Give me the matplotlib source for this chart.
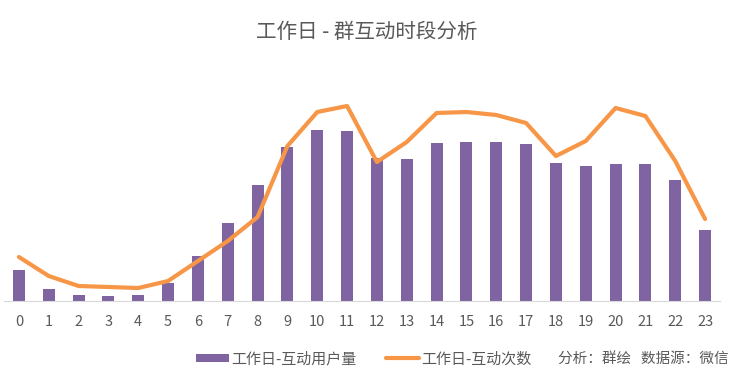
import matplotlib.pyplot as plt
import numpy as np

plt.rcParams['font.family'] = ['Noto Sans CJK SC', 'DejaVu Sans']

hours = [str(h) for h in range(24)]
users = [31, 12, 6, 5, 6, 18, 45, 78, 116, 154, 171, 170,
         143, 142, 158, 159, 159, 157, 138, 135, 137, 137, 121, 71]
counts = [44, 25, 15, 14, 13, 20, 40, 60, 84, 155, 189, 195,
          139, 159, 188, 189, 186, 178, 145, 160, 193, 185, 140, 82]

purple = '#8064A2'
orange = '#F79646'
grey = '#595959'

fig = plt.figure(figsize=(7.34, 3.86), dpi=100)
ax = fig.add_axes([4 / 734, 85 / 386, 716 / 734, 221 / 386])

x = np.arange(len(hours))
bars = ax.bar(x, users, width=0.4, color=purple, label='工作日-互动用户量')
line, = ax.plot(x, counts, color=orange, linewidth=3, solid_capstyle='round',
                label='工作日-互动次数')

ax.set_xlim(-0.5, 23.5)
ax.set_ylim(0, 221)
ax.set_xticks(x)
ax.set_xticklabels(hours, fontsize=10.5, color=grey)
ax.tick_params(axis='x', length=0, pad=10)
ax.set_yticks([])
for s in ['top', 'right', 'left']:
    ax.spines[s].set_visible(False)
ax.spines['bottom'].set_color('#D9D9D9')

fig.text(0.5, 1 - 32 / 386, '工作日 - 群互动时段分析', ha='center', va='center',
         fontsize=14.8, color=grey)

fig.legend(handles=[bars, line], loc='center left',
           bbox_to_anchor=(182 / 734, 1 - 359 / 386), ncol=2, frameon=False,
           fontsize=10.8, labelcolor=grey, handlelength=2.2, handleheight=0.5,
           handletextpad=0.15, columnspacing=2.0)
fig.text(729 / 734, 1 - 359 / 386, '分析：群绘   数据源：微信', ha='right',
         va='center', fontsize=10.5, color=grey)

plt.savefig('out.png')
